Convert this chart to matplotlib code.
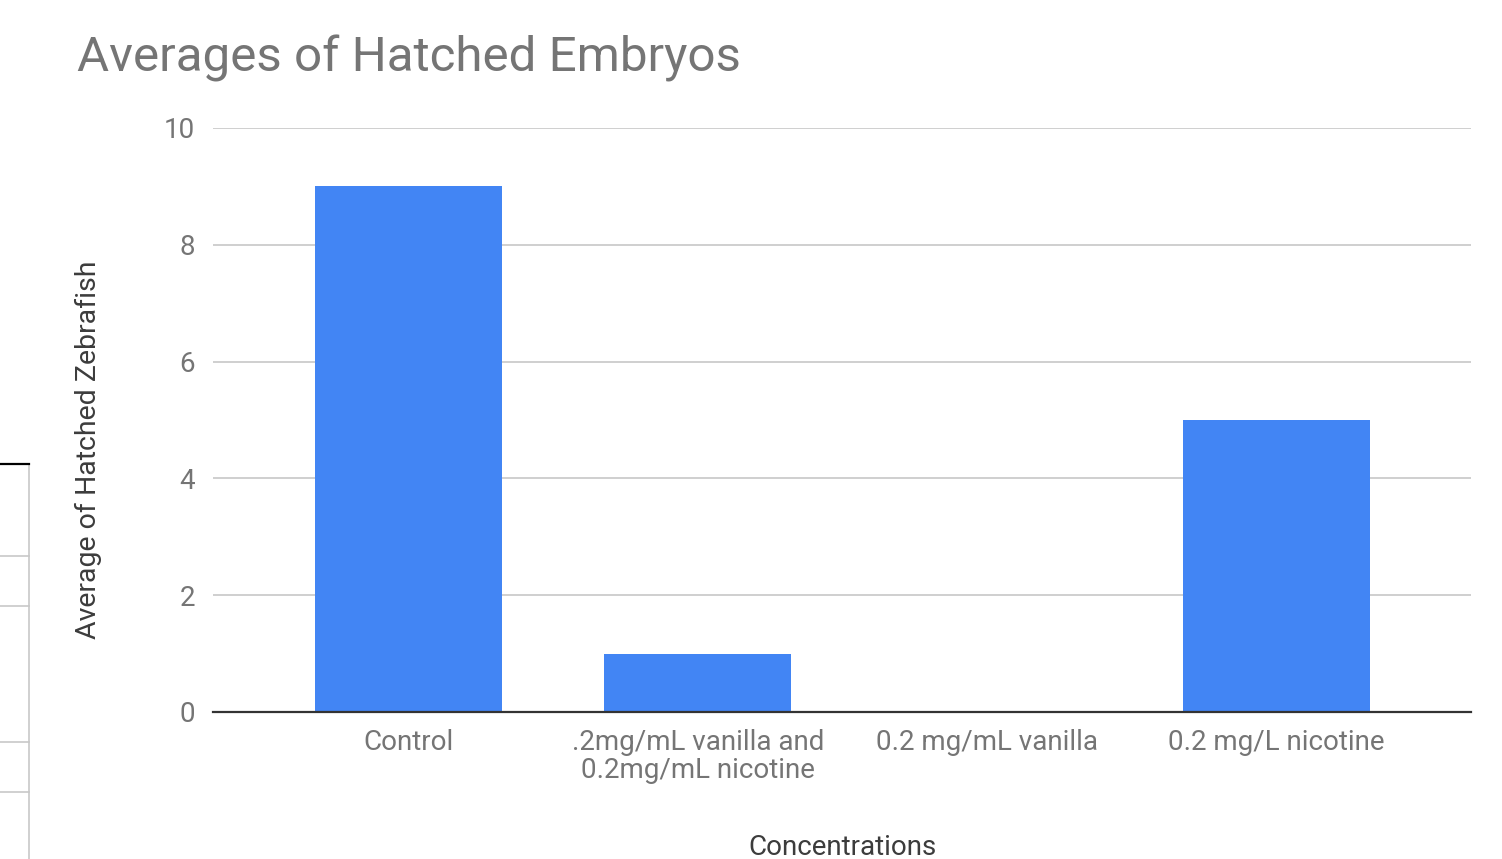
import matplotlib
matplotlib.use("Agg")
import matplotlib.pyplot as plt
from matplotlib.lines import Line2D

# Data
categories = ["Control", ".2mg/mL vanilla and\n0.2mg/mL nicotine", "0.2 mg/mL vanilla", "0.2 mg/L nicotine"]
averages = [9, 1, 0, 5]
y_ticks = [0, 2, 4, 6, 8, 10]

plt.rcParams["font.family"] = ["Roboto", "DejaVu Sans"]

W, H = 1502, 859
fig = plt.figure(figsize=(W / 100, H / 100), dpi=100)
ax = fig.add_axes([213 / W, 1 - 712 / H, (1471 - 213) / W, (712 - 128) / H])

text_grey = "#757575"
bar_blue = "#4285f4"

x = list(range(len(categories)))
ax.bar(x, averages, width=0.647, color=bar_blue, zorder=3)

ax.set_xlim(-0.676, 3.673)
ax.set_ylim(0, 10)
ax.set_yticks(y_ticks)
ax.set_yticklabels([str(v) for v in y_ticks])
ax.set_xticks(x)
ax.set_xticklabels(categories, linespacing=1.05)

ax.grid(axis="y", color="#cccccc", linewidth=1.3, zorder=0)
ax.set_axisbelow(True)
for side in ["top", "right", "left"]:
    ax.spines[side].set_visible(False)
ax.spines["bottom"].set_color("#333333")
ax.spines["bottom"].set_linewidth(1.6)
ax.spines["bottom"].set_zorder(4)

ax.tick_params(axis="both", length=0, labelsize=20, labelcolor=text_grey)
ax.tick_params(axis="y", pad=13)
ax.tick_params(axis="x", pad=12)

fig.text(842 / W, 1 - 855 / H, "Concentrations", fontsize=20,
         color="#3c3c3c", ha="center", va="baseline")
fig.text(77 / W, 1 - 58 / H, "Averages of Hatched Embryos", fontsize=35.5,
         color=text_grey, ha="left", va="center")
fig.text(88 / W, 1 - 450 / H, "Average of Hatched Zebrafish", fontsize=20.5,
         color="#3c3c3c", rotation=90, ha="center", va="center")

# Spreadsheet cell borders visible along the left edge
def fig_line(x0, y0, x1, y1, color, lw):
    fig.add_artist(Line2D([x0 / W, x1 / W], [1 - y0 / H, 1 - y1 / H],
                          transform=fig.transFigure, color=color, linewidth=lw))

fig_line(29, 464, 29, 859, "#c8c8c8", 1.2)
fig_line(0, 464, 29, 464, "#000000", 1.6)
for yy in [555.5, 605.5, 741.5, 791.5]:
    fig_line(0, yy, 29, yy, "#c8c8c8", 1.2)

fig.savefig("out.png", dpi=100, facecolor="white")
